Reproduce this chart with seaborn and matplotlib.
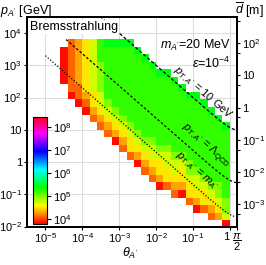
import numpy as np
import pandas as pd
import seaborn as sns
import matplotlib.pyplot as plt
from matplotlib.ticker import FixedLocator, FixedFormatter, NullLocator, LogLocator, NullFormatter

# binning of the histogram, log10 units
theta_first_edge = -4.6
theta_bin = 0.2
p_top_edge = np.log10(6500.0)
p_bin = 0.234

# one character per cell (theta bins left to right, p bins top row first), "." = empty
cell_rows = [
    ".OoYyGgggg.............",
    "ROoYyGGGGGg............",
    "ROoYyGGGGGGg...........",
    "ROoYylGGGGGGg..........",
    "ROoYylGGGGGGGgg........",
    "ROoYylGGGGGGGGGg.......",
    ".OOYylGGGGGGGGGGg......",
    ".ROoYyGGGGGGGGGGGgg....",
    "..ROYylGGGGGGGGGGGGg...",
    "...RoYylGGGGGGGGGGGGg..",
    "....OoYylGGGGGGGGGGGGg.",
    ".....OoYylGGGGGGGGGGGGg",
    "......OoYylGGGGGGGGGGGG",
    ".......RoYyllGGGGGGGGGG",
    "........OYYyyllGGGGGGGG",
    ".........OoYyyyllGGGGGG",
    "..........RoYYyyylGGGGG",
    "...........OoYYyYllGGGG",
    "............OoYYYyylGGG",
    ".............ROooYyyllG",
    "...............ORYYYylG",
    ".................OoYYyl",
    "..................ROoYl",
    "....................Ooy",
    "......................R",
]
# log10 of the counts for each colour code
cell_level = {"R": 3.82, "r": 3.95, "O": 4.1, "o": 4.3, "Y": 4.5,
              "y": 4.72, "l": 4.95, "G": 5.2, "g": 5.4}

cbar_lo, cbar_hi = 3.78, 8.43
cbar_ticks = [4, 5, 6, 7, 8]
cbar_ticklabels = [r"$10^{4}$", r"$10^{5}$", r"$10^{6}$", r"$10^{7}$", r"$10^{8}$"]

theta_ticks = [1e-5, 1e-4, 1e-3, 1e-2, 1e-1, 1.0, np.pi / 2]
theta_ticklabels = [r"$10^{-5}$", r"$10^{-4}$", r"$10^{-3}$", r"$10^{-2}$",
                    r"$10^{-1}$", "1", r"$\dfrac{\pi}{2}$"]
p_ticks = [1e-2, 1e-1, 1, 10, 1e2, 1e3, 1e4]
p_ticklabels = [r"$10^{-2}$", r"$10^{-1}$", "1", "10", r"$10^{2}$", r"$10^{3}$", r"$10^{4}$"]
d_ticks = [1e-3, 1e-2, 1e-1, 1, 10, 1e2]
d_ticklabels = [r"$10^{-3}$", r"$10^{-2}$", r"$10^{-1}$", "1", "10", r"$10^{2}$"]
d_per_p = 10 ** -1.69

# reference lines p = pT / sin(theta)
line_pt = [10.0, 0.23, 0.02]
line_pmax = [np.inf, 6500.0, 6500.0]
line_labels = [r"$p_{T,A'}$ = 10 GeV", r"$p_{T,A'}$ = $\Lambda_{\rm QCD}$", r"$p_{T,A'}$ = $m_{A'}$"]

sns.set_theme(style="whitegrid", rc={
    "axes.edgecolor": "black", "grid.color": "#dddddd", "grid.linewidth": 0.8,
    "xtick.bottom": True, "ytick.left": True, "ytick.right": True,
})
plt.rcParams["font.family"] = ["Liberation Sans", "DejaVu Sans"]
plt.rcParams["mathtext.fontset"] = "custom"
plt.rcParams["mathtext.rm"] = "Liberation Sans"
plt.rcParams["mathtext.it"] = "Liberation Sans:italic"
plt.rcParams["mathtext.bf"] = "Liberation Sans:bold"
plt.rcParams["text.color"] = "black"

theta_c, p_c, level = [], [], []
for r, row in enumerate(cell_rows):
    assert len(row) == 23
    for c, ch in enumerate(row):
        if ch != ".":
            theta_c.append(10 ** (theta_first_edge + theta_bin * (c + 0.5)))
            p_c.append(10 ** (p_top_edge - p_bin * (r + 0.5)))
            level.append(cell_level[ch])
cells = pd.DataFrame({"theta": theta_c, "p": p_c, "level": level})
theta_edges = theta_first_edge + theta_bin * np.arange(24)
p_edges = p_top_edge - p_bin * np.arange(26)[::-1]

fig = plt.figure(figsize=(2.66, 2.65), dpi=100)
ax = fig.add_axes([27 / 266, 38.5 / 265, 210 / 266, 209.5 / 265])
cax = ax.inset_axes([0.0286, 0.012, 0.0667, 0.511])

sns.histplot(cells, x="theta", y="p", weights="level", bins=(theta_edges, p_edges),
             log_scale=(True, True), cmap=plt.get_cmap("hsv"), vmin=cbar_lo, vmax=cbar_hi,
             cbar=True, cbar_ax=cax, cbar_kws={"ticks": cbar_ticks}, ax=ax, linewidth=0)

ax.set_xlim(10 ** -5.5, np.pi / 2)
ax.set_ylim(1e-2, 10 ** 4.5)

theta = np.logspace(-5, np.log10(np.pi / 2), 400)
dashes = [(2.6, 1.6), (2.0, 1.6), (1.0, 1.5)]
for pt, pmax, ds in zip(line_pt, line_pmax, dashes):
    p = pt / np.sin(theta)
    p = np.where(p <= pmax, p, np.nan)
    ax.plot(theta, p, color="black", lw=0.9, dashes=ds, zorder=3)

# labels along the lines
ang_pts = ax.transData.transform([[1e-3, 10 / np.sin(1e-3)], [1e-1, 10 / np.sin(1e-1)]])
angle = np.degrees(np.arctan2(ang_pts[1, 1] - ang_pts[0, 1], ang_pts[1, 0] - ang_pts[0, 0]))
for pt, lab, lt, off in zip(line_pt, line_labels, [-0.9, -0.87, -1.13], [2.0, 2.0, 3.5]):
    t0 = 10 ** lt
    nx, ny = np.sin(np.radians(-angle)), np.cos(np.radians(-angle))
    ax.annotate(lab, xy=(t0, pt / np.sin(t0)), xytext=(off * nx, off * ny),
                textcoords="offset points", rotation=angle, rotation_mode="anchor",
                ha="center", va="bottom", fontsize=8, zorder=4)

ax.text(0.014, 0.952, "Bremsstrahlung", transform=ax.transAxes, ha="left", va="center",
        fontsize=9, zorder=6, bbox=dict(fc="white", ec="none", pad=0.6))
ax.text(0.971, 0.866, r"$m_{A'}$=20 MeV", transform=ax.transAxes, ha="right", va="center",
        fontsize=9, zorder=6)
ax.text(0.971, 0.78, r"$\epsilon$=$10^{-4}$", transform=ax.transAxes, ha="right", va="center",
        fontsize=9, zorder=6)

ax.xaxis.set_major_locator(FixedLocator(theta_ticks))
ax.xaxis.set_major_formatter(FixedFormatter(theta_ticklabels))
ax.xaxis.set_minor_locator(NullLocator())
ax.yaxis.set_major_locator(FixedLocator(p_ticks))
ax.yaxis.set_major_formatter(FixedFormatter(p_ticklabels))
ax.yaxis.set_minor_locator(NullLocator())
ax.tick_params(which="major", direction="out", length=2.5, width=0.8, colors="black",
               labelsize=8, pad=1.2, right=False)
ax.set_xlabel("")
ax.set_ylabel("")
# keep "1" clear of the pi/2 label at the right end
ax.get_xticklabels()[5].set_horizontalalignment("right")

ax2 = ax.twinx()
ax2.set_yscale("log")
ax2.set_ylim(1e-2 * d_per_p, 10 ** 4.5 * d_per_p)
ax2.grid(False)
ax2.yaxis.set_major_locator(FixedLocator(d_ticks))
ax2.yaxis.set_major_formatter(FixedFormatter(d_ticklabels))
ax2.yaxis.set_minor_locator(LogLocator(subs=(5.0,)))
ax2.yaxis.set_minor_formatter(NullFormatter())
ax2.tick_params(which="both", direction="out", length=2.5, width=0.8, colors="black",
                labelsize=8, pad=1.2, left=False, right=True)
ax2.tick_params(which="minor", length=2.0)

for a in (ax, ax2):
    for s in a.spines.values():
        s.set_color("black")
        s.set_linewidth(1.3)

cax.yaxis.set_ticks_position("right")
cax.set_yticks(cbar_ticks)
cax.set_yticklabels(cbar_ticklabels)
cax.tick_params(direction="out", length=3, width=0.8, colors="black", labelsize=8, pad=1)
cax.grid(False)
for s in cax.spines.values():
    s.set_linewidth(0.8)
    s.set_color("black")

fig.text(0.0, 1 - 11 / 265, r"$p_{A'}$ [GeV]", ha="left", va="center", fontsize=9)
fig.text(264 / 266, 1 - 10 / 265, r"$\overline{d}$ [m]", ha="right", va="center", fontsize=9)
fig.text(130 / 266, 1 - 253 / 265, r"$\theta_{A'}$", ha="center", va="center", fontsize=9)

fig.savefig("out.png", dpi=100)
